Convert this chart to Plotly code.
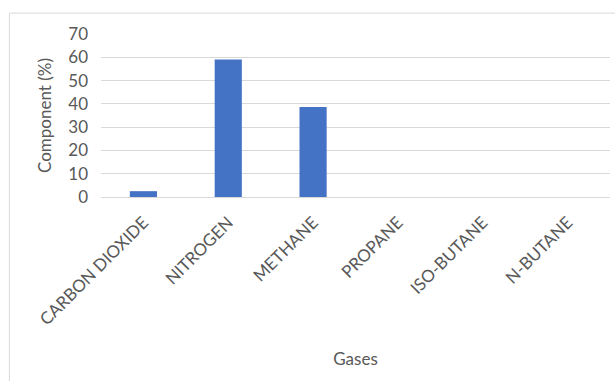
import plotly.graph_objects as go

# Gas composition of the sample
gases = ["CARBON DIOXIDE", "NITROGEN", "METHANE", "PROPANE", "ISO-BUTANE", "N-BUTANE"]
component_pct = [2.5, 59.0, 38.6, 0.0, 0.0, 0.0]
y_ticks = [0, 10, 20, 30, 40, 50, 60, 70]

FONT = "Lato, 'Open Sans', sans-serif"
TEXT = "#595959"
GRID = "#d9d9d9"

fig = go.Figure(
    go.Bar(
        x=gases,
        y=component_pct,
        marker=dict(color="#4472c4", line=dict(width=0)),
        width=0.32,
    )
)

fig.update_layout(
    width=615,
    height=381,
    margin=dict(l=101, r=5, t=33.5, b=184),
    paper_bgcolor="white",
    plot_bgcolor="white",
    showlegend=False,
    font=dict(family=FONT, color=TEXT, size=17),
    shapes=[
        # outer chart frame
        dict(
            type="rect", xref="paper", yref="paper",
            x0=-0.18, x1=1.2, y0=-1.5, y1=1.128,
            line=dict(color=GRID, width=1), fillcolor="rgba(0,0,0,0)",
            layer="below",
        )
    ],
)

fig.update_xaxes(
    tickangle=-45,
    tickfont=dict(size=17, color=TEXT),
    showgrid=False,
    showline=True,
    linecolor=GRID,
    linewidth=1,
    ticks="",
    ticklabelstandoff=8,
    title=dict(text="Gases", font=dict(size=17, color=TEXT), standoff=24),
)

fig.update_yaxes(
    range=[0, 70],
    tickvals=y_ticks,
    tickfont=dict(size=17, color=TEXT),
    showgrid=True,
    gridcolor=GRID,
    gridwidth=1,
    zeroline=False,
    showline=False,
    ticks="",
    ticklabelstandoff=12,
    title=dict(text="Component (%)", font=dict(size=17, color=TEXT), standoff=12),
)

fig.write_html("out.html")
